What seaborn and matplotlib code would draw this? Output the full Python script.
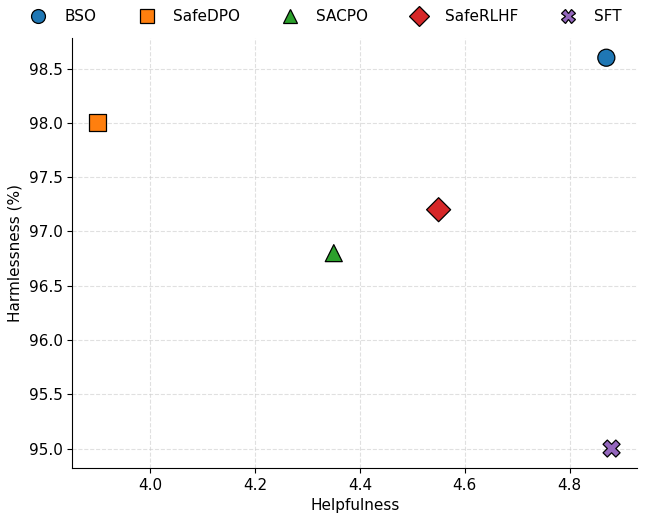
import matplotlib
matplotlib.use("Agg")
import matplotlib.pyplot as plt
import seaborn as sns
import pandas as pd

methods = ["BSO", "SafeDPO", "SACPO", "SafeRLHF", "SFT"]
helpfulness = [4.87, 3.90, 4.35, 4.55, 4.88]
harmlessness = [98.6, 98.0, 96.8, 97.2, 95.0]
markers = {"BSO": "o", "SafeDPO": "s", "SACPO": "^", "SafeRLHF": "D", "SFT": "X"}
colors = {"BSO": "#1f77b4", "SafeDPO": "#ff7f0e", "SACPO": "#2ca02c",
          "SafeRLHF": "#d62728", "SFT": "#9467bd"}

df = pd.DataFrame({"Method": methods, "Helpfulness": helpfulness,
                   "Harmlessness": harmlessness})

sns.set_style("ticks", {"text.color": "black", "axes.labelcolor": "black",
                        "xtick.color": "black", "ytick.color": "black",
                        "axes.edgecolor": "black"})
plt.rcParams["font.family"] = ["DejaVu Sans"]

fig, ax = plt.subplots(figsize=(6.45, 5.23), dpi=100)
sns.scatterplot(data=df, x="Helpfulness", y="Harmlessness", hue="Method",
                style="Method", markers=markers, palette=colors, s=150,
                edgecolor="black", linewidth=0.9, ax=ax, zorder=3)
ax.grid(True, linestyle="--", color="#cccccc", alpha=0.6, linewidth=0.8)
ax.set_xlabel("Helpfulness", fontsize=11)
ax.set_ylabel("Harmlessness (%)", fontsize=11)
ax.tick_params(labelsize=11)
sns.despine(ax=ax)

handles, labels = ax.get_legend_handles_labels()
for h in handles:
    h.set_markersize(10)
    h.set_markeredgecolor("black")
ax.legend(handles, labels, loc="lower center", bbox_to_anchor=(0.443, 1.0),
          ncol=5, frameon=False, fontsize=11, handletextpad=0.7,
          columnspacing=2.3)
fig.subplots_adjust(left=0.112, right=0.988, top=0.927, bottom=0.105)
fig.savefig("out.png", dpi=100)
